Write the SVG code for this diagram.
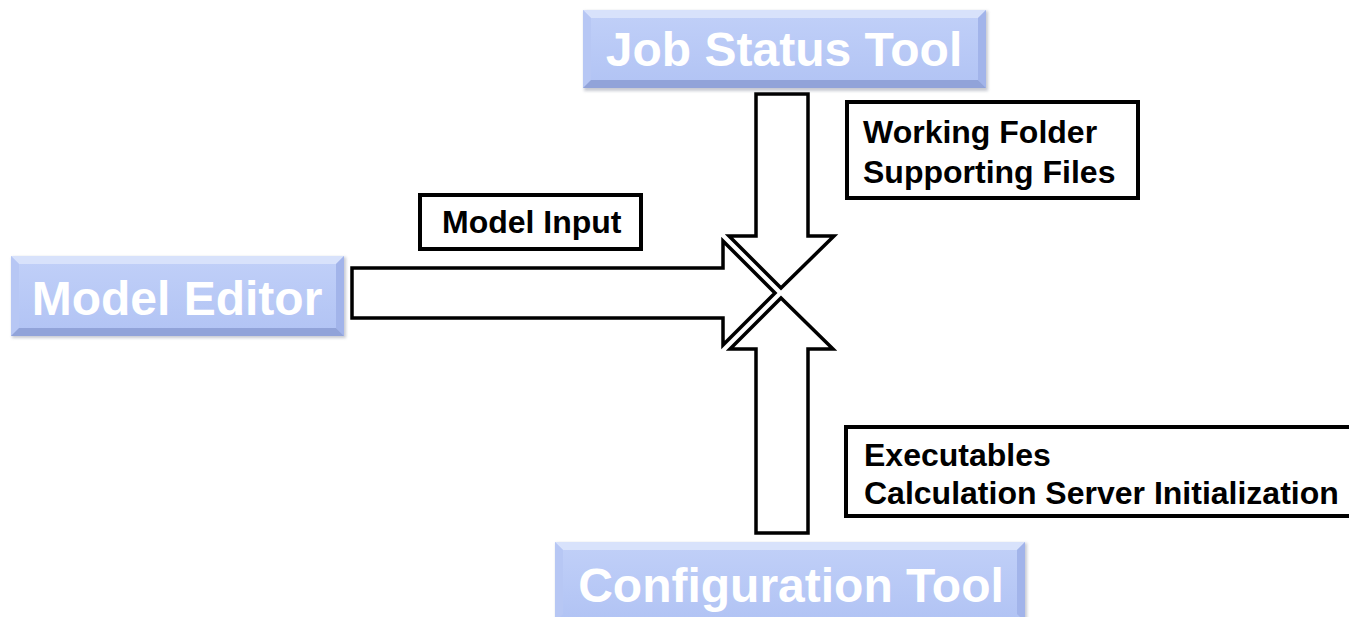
<svg xmlns="http://www.w3.org/2000/svg" width="1349" height="617" viewBox="0 0 1349 617">
  <defs>
    <linearGradient id="face" x1="0" y1="0" x2="0" y2="1">
      <stop offset="0" stop-color="#c1d0f8"/>
      <stop offset="1" stop-color="#b1c3f4"/>
    </linearGradient>
    <filter id="soft" x="-5%" y="-10%" width="110%" height="130%">
      <feGaussianBlur stdDeviation="1.5"/>
    </filter>
  </defs>
  <style>
    .shadow { fill: #9a9fae; opacity: 0.55; filter: url(#soft); }
    .face { fill: url(#face); }
    .bev-top { fill: #d8e2fb; }
    .bev-left { fill: #b7c7f4; }
    .bev-right { fill: #a2b4ea; }
    .bev-bottom { fill: #91a3d9; }
    .title { font-family: "Liberation Sans", Arial, sans-serif; font-weight: bold; font-size: 48px; fill: #ffffff; text-anchor: middle; }
    .label-box { fill: #ffffff; stroke: #000000; stroke-width: 4; }
    .label { font-family: "Liberation Sans", Arial, sans-serif; font-weight: bold; font-size: 32px; fill: #000000; }
    .block-arrow { fill: #ffffff; stroke: #000000; stroke-width: 3.5; stroke-linejoin: miter; }
  </style>

  <rect width="1349" height="617" fill="#ffffff"/>

  <!-- block arrows between the tools -->
  <g id="connectors">
    <polygon class="block-arrow" points="352,268 723,268 723,241 775,293 723,345 723,318 352,318"/>
    <polygon class="block-arrow" points="756,94 808,94 808,236 834,236 781,288 729,236 756,236"/>
    <polygon class="block-arrow" points="756,533 808,533 808,349 833,349 781,298 730,349 756,349"/>
  </g>

  <!-- Job Status Tool -->
  <g id="job-status-tool">
    <rect class="shadow" x="584" y="11" width="404" height="80"/>
    <rect class="face" x="583" y="10" width="403" height="78"/>
    <polygon class="bev-top" points="583,10 986,10 978,18 591,18"/>
    <polygon class="bev-left" points="583,10 591,18 591,80 583,88"/>
    <polygon class="bev-right" points="986,10 986,88 978,80 978,18"/>
    <polygon class="bev-bottom" points="583,88 591,80 978,80 986,88"/>
    <text class="title" x="784" y="66">Job Status Tool</text>
  </g>

  <!-- Model Editor -->
  <g id="model-editor">
    <rect class="shadow" x="12" y="257" width="334" height="81"/>
    <rect class="face" x="11" y="256" width="333" height="80"/>
    <polygon class="bev-top" points="11,256 344,256 336,264 19,264"/>
    <polygon class="bev-left" points="11,256 19,264 19,328 11,336"/>
    <polygon class="bev-right" points="344,256 344,336 336,328 336,264"/>
    <polygon class="bev-bottom" points="11,336 19,328 336,328 344,336"/>
    <text class="title" x="177" y="315">Model Editor</text>
  </g>

  <!-- Configuration Tool -->
  <g id="configuration-tool">
    <rect class="shadow" x="556" y="543" width="471" height="82"/>
    <rect class="face" x="555" y="542" width="470" height="80"/>
    <polygon class="bev-top" points="555,542 1025,542 1017,550 563,550"/>
    <polygon class="bev-left" points="555,542 563,550 563,614 555,622"/>
    <polygon class="bev-right" points="1025,542 1025,622 1017,614 1017,550"/>
    <text class="title" x="791" y="602">Configuration Tool</text>
  </g>

  <!-- data labels -->
  <g id="label-model-input">
    <rect class="label-box" x="420" y="195" width="221" height="54"/>
    <text class="label" x="442" y="233">Model Input</text>
  </g>

  <g id="label-working-folder">
    <rect class="label-box" x="847" y="102" width="291" height="96"/>
    <text class="label" x="863" y="143">Working Folder</text>
    <text class="label" x="863" y="183">Supporting Files</text>
  </g>

  <g id="label-executables">
    <rect class="label-box" x="846" y="427" width="520" height="89"/>
    <text class="label" x="864" y="466">Executables</text>
    <text class="label" x="864" y="504">Calculation Server Initialization</text>
  </g>
</svg>
